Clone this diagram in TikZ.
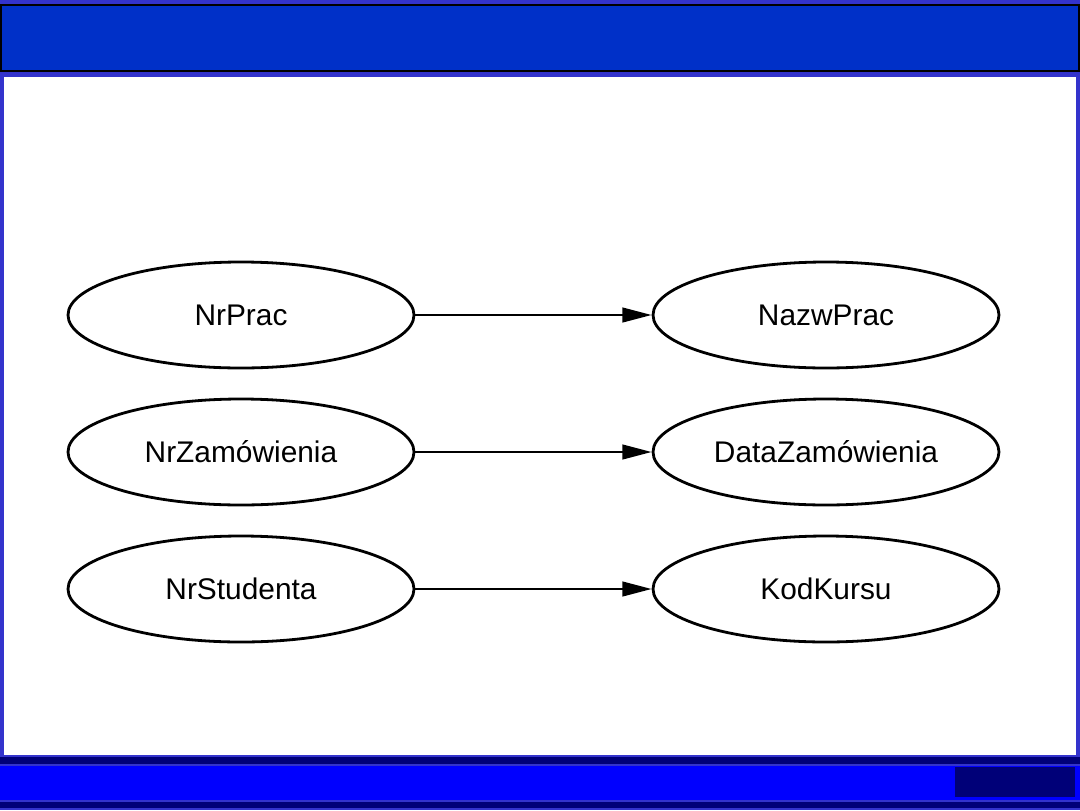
\documentclass[tikz,border=0pt]{standalone}
\usepackage{fontspec}
\setmainfont{Liberation Sans}
\usetikzlibrary{shapes.geometric,arrows.meta}
\definecolor{frameblue}{RGB}{51,51,204}
\definecolor{titleblue}{RGB}{0,48,200}
\definecolor{navy}{RGB}{0,0,120}
\definecolor{brightblue}{RGB}{0,0,255}
\begin{document}
\begin{tikzpicture}[x=0.75pt,y=-0.75pt,
  attr/.style={ellipse,draw=black,line width=2.1pt,minimum width=346*0.75pt,minimum height=106*0.75pt,inner sep=0pt,font=\fontsize{22.4}{26}\selectfont},
  fd/.style={-{Triangle[length=22pt,width=11pt]},line width=1.8pt,shorten >=0pt}]
\useasboundingbox (0,0) rectangle (1080,810);
% background frame
\fill[frameblue] (0,0) rectangle (1080,810);
% title bar
\filldraw[fill=titleblue,draw=black,line width=1.5pt] (0.5,4.5) rectangle (1079,71);
% white content area
\fill[white] (4,77) rectangle (1076,755);
% bottom bars
\fill[navy] (0,757) rectangle (1080,764);
\fill[brightblue] (0,766) rectangle (1080,800);
\fill[navy] (955,767) rectangle (1075,797);
\fill[navy] (0,802) rectangle (1080,808);
% nodes
\node[attr] (a1) at (241,315) {NrPrac};
\node[attr] (b1) at (826,315) {NazwPrac};
\node[attr] (a2) at (241,452) {NrZamówienia};
\node[attr] (b2) at (826,452) {DataZamówienia};
\node[attr] (a3) at (241,589) {NrStudenta};
\node[attr] (b3) at (826,589) {KodKursu};
% connectors
\draw[fd] (a1) -- (b1);
\draw[fd] (a2) -- (b2);
\draw[fd] (a3) -- (b3);
\end{tikzpicture}
\end{document}
